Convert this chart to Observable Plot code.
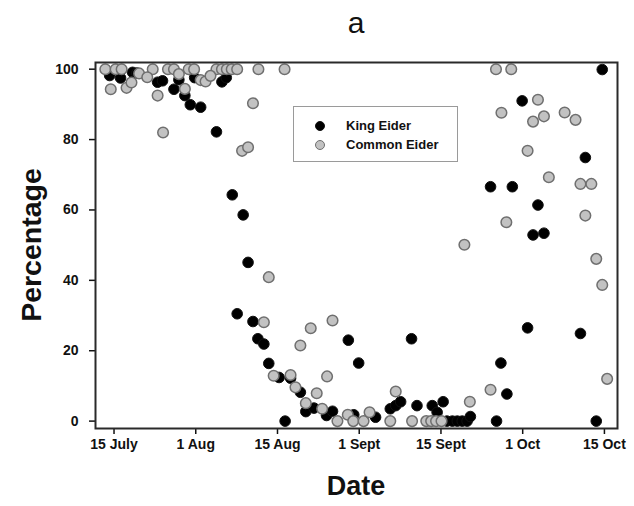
<!DOCTYPE html>
<html><head><meta charset="utf-8">
<script src="https://cdn.jsdelivr.net/npm/d3@7"></script>
<script src="https://cdn.jsdelivr.net/npm/@observablehq/plot@0.6"></script>
<style>
body{margin:0;background:#fff;font-family:"Liberation Sans",Arial,sans-serif;}
#wrap{position:relative;width:634px;height:506px;overflow:hidden;background:#fff}
#wrap svg{position:absolute;left:0;top:0}
.ov{position:absolute;color:#111;white-space:nowrap}
#title{left:306px;width:100px;text-align:center;top:6px;font-size:30px;font-weight:normal}
#xlab{left:256px;width:200px;text-align:center;top:471px;font-size:27px;font-weight:bold}
#ylab{left:31px;top:245px;font-size:28.5px;font-weight:bold;transform:translate(-50%,-50%) rotate(-90deg)}
#legend{left:293px;top:106px;width:163px;height:54px;border:1.5px solid #9a9a9a;background:#fff}
.lrow{position:absolute;left:0;height:16px;font-size:13px;font-weight:bold;color:#111}
.ldot{position:absolute;left:21px;top:3px;width:10px;height:10px;border-radius:50%;box-sizing:border-box}
.ltxt{position:absolute;left:52px;top:0;line-height:16px}
</style></head><body>
<div id="wrap">
  <div class="ov" id="title">a</div>
  <div class="ov" id="xlab">Date</div>
  <div class="ov" id="ylab">Percentage</div>
  <div class="ov" id="legend"></div>
</div>
<script>
// Day of year (x) and percentage (y)
const kingDay = [195.2,197.2,199.4,200.2,204.0,204.9,207.0,207.9,209.0,210.0,210.8,211.9,214.8,215.8,216.6,217.7,218.6,219.7,220.6,221.5,222.4,223.5,224.4,226.3,227.4,228.4,230.2,231.2,232.7,235.0,236.1,239.0,240.0,240.9,244.0,246.7,247.7,248.6,250.6,251.6,254.4,255.3,256.4,257.1,258.1,259.0,259.9,260.8,261.4,265.1,266.2,267.0,268.1,269.1,270.9,271.9,272.9,273.8,274.9,281.6,282.5,284.5,285.6];
const kingPct = [98.2,97.5,99.1,98.9,96.3,96.7,94.3,97.0,92.5,89.9,97.6,89.2,82.2,96.4,97.6,64.3,30.5,58.6,45.1,28.3,23.4,21.9,16.4,12.4,0,12.2,8.2,2.7,3.7,1.6,2.8,23.0,1.8,16.5,1.1,3.5,4.4,5.5,23.4,4.4,4.4,2.5,5.5,0,0,0,0,0,1.3,66.6,0,16.5,7.7,66.6,91.0,26.5,52.9,61.4,53.4,24.9,74.9,0,99.9];

const commonDay = [194.4,196.3,197.4,203.1,205.9,207.0,209.7,210.7,214.8,215.8,216.7,217.6,218.6,222.5,227.3,195.4,198.3,199.2,200.6,202.1,204.0,205.0,207.9,209.0,211.9,212.8,213.7,219.5,220.6,221.5,223.5,224.4,225.3,228.4,229.3,230.2,231.2,232.1,233.2,234.2,235.1,236.1,237.0,238.9,239.9,241.8,242.9,246.7,247.7,250.7,253.3,254.2,255.1,256.1,260.3,261.3,265.1,266.1,267.1,268.0,268.9,271.9,272.9,273.8,274.9,275.8,278.7,280.7,281.6,282.5,283.6,284.5,285.6,286.5];
const commonPct = [100,100,100,100,100,100,100,100,100,100,100,100,100,100,100,94.3,94.7,96.2,98.8,97.7,92.5,82.0,98.6,94.4,96.9,96.5,98.1,76.8,77.8,90.3,28.1,40.9,12.9,13.1,9.6,21.5,5.1,26.4,7.9,3.5,12.7,28.6,0,1.8,0,0,2.5,0,8.4,0,0,0,0,0,50.1,5.5,8.9,100,87.6,56.5,100,76.8,85.1,91.3,86.6,69.3,87.7,85.6,67.4,58.4,67.4,46.1,38.7,12.0];

const tickDays = [196,211,226,241,256,271,286];
const tickLabels = ["15 July","1 Aug","15 Aug","1 Sept","15 Sept","1 Oct","15 Oct"];
const yTicks = [0,20,40,60,80,100];
const seriesNames = ["King Eider","Common Eider"];
const seriesFill = ["#000000","#c2c2c2"];
const seriesStroke = ["#111111","#6f6f6f"];

const king = kingDay.map((d,i)=>({day:d,pct:kingPct[i]}));
const common = commonDay.map((d,i)=>({day:d,pct:commonPct[i]}));

const chart = Plot.plot({
  width:634, height:506,
  marginLeft:95, marginRight:17, marginTop:62, marginBottom:78,
  style:{fontFamily:"'Liberation Sans', Arial, sans-serif", fontSize:"14px", fontWeight:"bold", color:"#111", background:"transparent"},
  x:{domain:[192.6,288.4]},
  y:{domain:[-2.1,101.9]},
  marks:[
    Plot.axisX({ticks:tickDays, tickFormat:d=>tickLabels[tickDays.indexOf(d)], tickSize:6, tickPadding:5, label:null, strokeWidth:1.5}),
    Plot.axisY({ticks:yTicks, tickSize:6, tickPadding:11, label:null, strokeWidth:1.5}),
    Plot.dot(king,{x:"day",y:"pct",r:5.3,fill:seriesFill[0],stroke:seriesStroke[0],strokeWidth:1}),
    Plot.dot(common,{x:"day",y:"pct",r:5.3,fill:seriesFill[1],stroke:seriesStroke[1],strokeWidth:1.5}),
    Plot.frame({stroke:"#2a2a2a", strokeWidth:2})
  ]
});
document.getElementById("wrap").insertBefore(chart, document.getElementById("wrap").firstChild);

const lg = document.getElementById("legend");
seriesNames.forEach((n,i)=>{
  const row = document.createElement("div");
  row.className="lrow"; row.style.top = (11 + i*19) + "px";
  const dot = document.createElement("div"); dot.className="ldot";
  dot.style.background = seriesFill[i]; dot.style.border = (i? "1.5px":"1px") + " solid " + seriesStroke[i];
  const t = document.createElement("div"); t.className="ltxt"; t.textContent = n;
  row.appendChild(dot); row.appendChild(t); lg.appendChild(row);
});
</script>
</body></html>
